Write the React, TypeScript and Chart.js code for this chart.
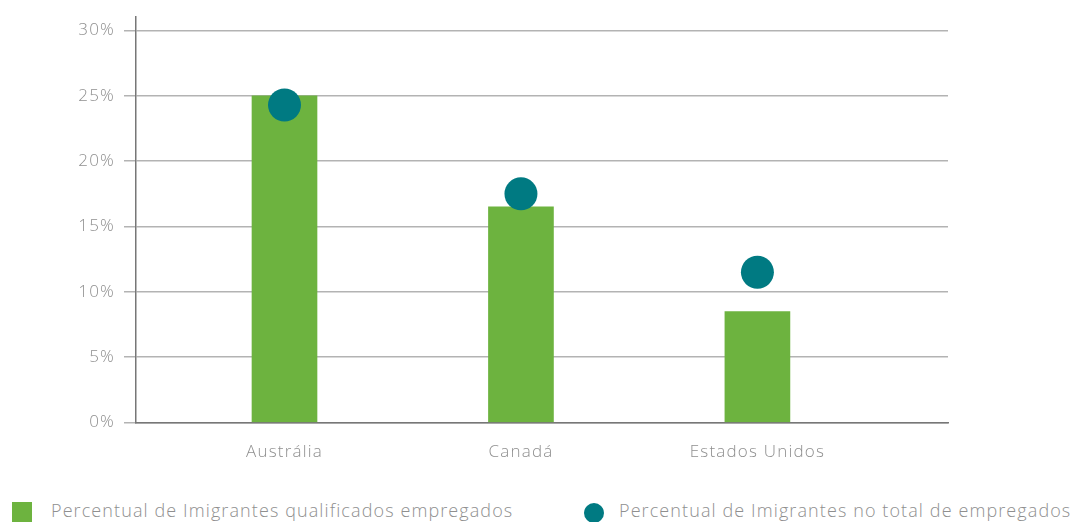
import React, { useEffect, useRef } from "react";
import { Chart, registerables } from "chart.js";

Chart.register(...registerables);

const categories = ["Austrália", "Canadá", "Estados Unidos"];
const qualifiedEmployed = [25.0, 16.5, 8.5];
const totalEmployed = [24.3, 17.5, 11.5];
const yTicks = [0, 5, 10, 15, 20, 25, 30];
const seriesNames = [
  "Percentual de Imigrantes qualificados empregados",
  "Percentual de Imigrantes no total de empregados",
];

const GREEN = "#6db33f";
const TEAL = "#007a82";
const TEXT = "#8f8f8f";
const FONT = "'Open Sans', Lato, sans-serif";

const letterSpacingPlugin = {
  id: "letterSpacing",
  beforeDraw(chart: any) {
    (chart.ctx as any).letterSpacing = "1.2px";
  },
};

export default function App() {
  const ref = useRef<HTMLCanvasElement | null>(null);

  useEffect(() => {
    if (!ref.current) return;
    const chart = new Chart(ref.current, {
      type: "bar",
      plugins: [letterSpacingPlugin],
      data: {
        datasets: [
          {
            type: "line",
            label: seriesNames[1],
            data: totalEmployed.map((v, i) => ({ x: i, y: v })),
            showLine: false,
            pointRadius: 16.5,
            pointHoverRadius: 16.5,
            pointBackgroundColor: TEAL,
            pointBorderWidth: 0,
            borderColor: TEAL,
            order: 0,
          } as any,
          {
            type: "bar",
            label: seriesNames[0],
            data: qualifiedEmployed.map((v, i) => ({ x: i, y: v })),
            backgroundColor: GREEN,
            barThickness: 65,
            order: 1,
          } as any,
        ],
      },
      options: {
        animation: false,
        responsive: false,
        maintainAspectRatio: false,
        layout: { padding: { left: 0, right: 130, top: 15, bottom: 0 } },
        plugins: { legend: { display: false }, tooltip: { enabled: false } },
        scales: {
          x: {
            type: "linear",
            min: -0.628,
            max: 2.806,
            offset: false,
            afterBuildTicks: (scale: any) => {
              scale.ticks = categories.map((_, i) => ({ value: i }));
            },
            ticks: {
              autoSkip: false,
              maxRotation: 0,
              padding: 19,
              color: TEXT,
              font: { family: FONT, size: 17, weight: "300" },
              callback: (v: any) => categories[v as number] ?? "",
            },
            grid: { display: false, drawTicks: false },
            border: { display: true, color: "#777", width: 1.5 },
          },
          y: {
            min: 0,
            max: 31.07,
            afterBuildTicks: (scale: any) => {
              scale.ticks = yTicks.map((v) => ({ value: v }));
            },
            afterFit: (scale: any) => {
              scale.width = 136;
              scale.paddingTop = 0;
              scale.paddingBottom = 0;
            },
            ticks: {
              includeBounds: false,
              padding: 9,
              color: TEXT,
              font: { family: FONT, size: 17, weight: "300" },
              callback: (v: any) => v + "%",
            },
            grid: { color: "#b3b3b3", lineWidth: 1.5, tickLength: 12 },
            border: { display: true, color: "#777", width: 1.5 },
          },
        },
      },
    });
    return () => chart.destroy();
  }, []);

  const legendText: React.CSSProperties = {
    position: "absolute",
    top: 498,
    fontSize: 18,
    fontWeight: 300,
    letterSpacing: "1.1px",
    color: TEXT,
    whiteSpace: "nowrap",
    lineHeight: "24px",
  };

  return (
    <div
      style={{
        position: "absolute",
        left: 0,
        top: 0,
        width: 1078,
        height: 522,
        overflow: "hidden",
        background: "#fff",
        fontFamily: FONT,
      }}
    >
      <canvas ref={ref} width={1078} height={481} style={{ display: "block" }} />
      <div style={{ position: "absolute", left: 12, top: 502, width: 20, height: 20, background: GREEN }} />
      <div style={{ ...legendText, left: 51 }}>{seriesNames[0]}</div>
      <div
        style={{ position: "absolute", left: 584, top: 503, width: 20, height: 20, borderRadius: "50%", background: TEAL }}
      />
      <div style={{ ...legendText, left: 619 }}>{seriesNames[1]}</div>
    </div>
  );
}
